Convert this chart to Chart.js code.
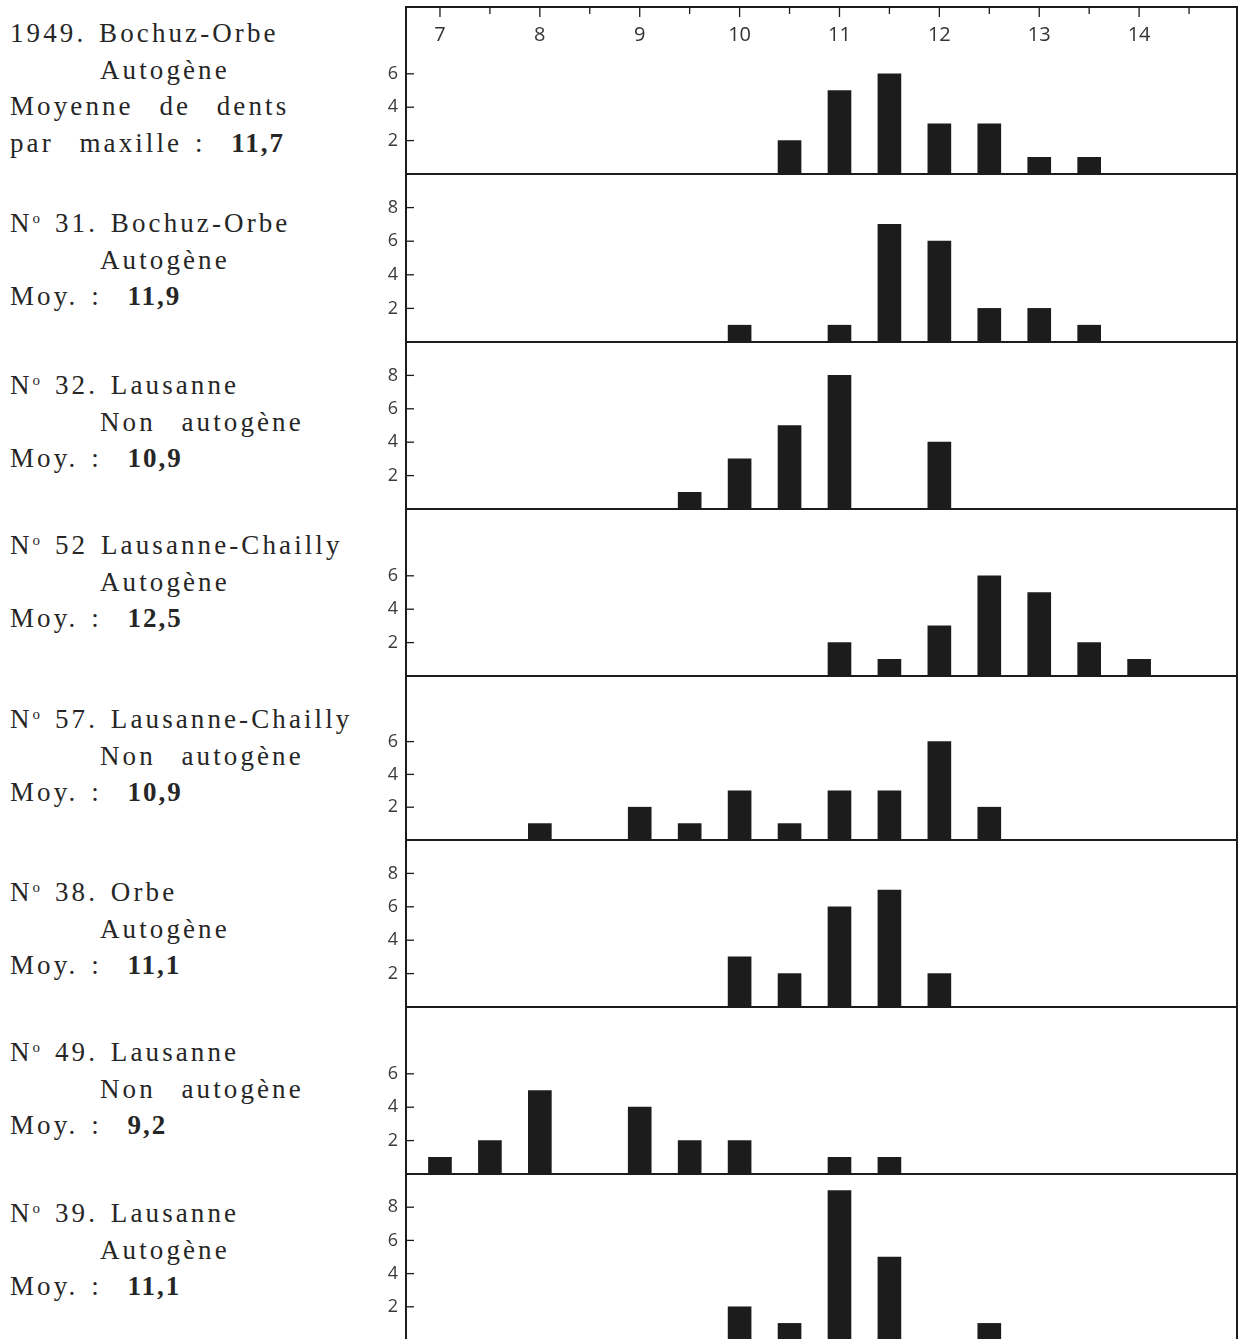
<!DOCTYPE html>
<html lang="fr">
<head>
<meta charset="utf-8">
<title>Nombre de dents par maxille</title>
<script src="https://cdn.jsdelivr.net/npm/chart.js@4"></script>
<style>
    html, body {
        margin: 0;
        padding: 0;
        background: #fff;
        width: 1238px;
        height: 1339px;
        overflow: hidden;
    }
    .label {
        position: absolute;
        left: 10px;
        font-family: "Liberation Serif", "Times New Roman", "DejaVu Serif", serif;
        font-size: 27px;
        line-height: 36.5px;
        letter-spacing: 3.1px;
        word-spacing: 3px;
        color: #262626;
        white-space: pre;
    }
    .label .ind { padding-left: 90px; }
    .label b { font-weight: bold; letter-spacing: 2px; }
    .label sup { font-size: 15px; line-height: 0; vertical-align: 9px; letter-spacing: 2px; }
    .panel { position: absolute; left: 370px; }
    .panel canvas { display: block; }
</style>
</head>
<body>
<script>
// Classes (nombre de dents par maxille)
const bins = [7, 7.5, 8, 8.5, 9, 9.5, 10, 10.5, 11, 11.5, 12, 12.5, 13, 13.5, 14];
const axisTicks = [7, 7.5, 8, 8.5, 9, 9.5, 10, 10.5, 11, 11.5, 12, 12.5, 13, 13.5, 14, 14.5];
const axisLabels = ['7', '8', '9', '10', '11', '12', '13', '14'];

// Effectifs par groupe, dans l'ordre des classes
const bochuz1949 = [0, 0, 0, 0, 0, 0, 0, 2, 5, 6, 3, 3, 1, 1, 0];
const no31 = [0, 0, 0, 0, 0, 0, 1, 0, 1, 7, 6, 2, 2, 1, 0];
const no32 = [0, 0, 0, 0, 0, 1, 3, 5, 8, 0, 4, 0, 0, 0, 0];
const no52 = [0, 0, 0, 0, 0, 0, 0, 0, 2, 1, 3, 6, 5, 2, 1];
const no57 = [0, 0, 1, 0, 2, 1, 3, 1, 3, 3, 6, 2, 0, 0, 0];
const no38 = [0, 0, 0, 0, 0, 0, 3, 2, 6, 7, 2, 0, 0, 0, 0];
const no49 = [1, 2, 5, 0, 4, 2, 2, 0, 1, 1, 0, 0, 0, 0, 0];
const no39 = [0, 0, 0, 0, 0, 0, 2, 1, 9, 5, 0, 1, 0, 0, 0];

// Graduations verticales
const ticksShort = [2, 4, 6];
const ticksLong = [2, 4, 6, 8];

// Textes de gauche
const titles = [
    ['1949. Bochuz-Orbe', 'Autogène', 'Moyenne  de  dents', 'par  maxille :  ', '11,7'],
    ['31. Bochuz-Orbe', 'Autogène', 'Moy. :  ', '11,9'],
    ['32. Lausanne', 'Non  autogène', 'Moy. :  ', '10,9'],
    ['52 Lausanne-Chailly', 'Autogène', 'Moy. :  ', '12,5'],
    ['57. Lausanne-Chailly', 'Non  autogène', 'Moy. :  ', '10,9'],
    ['38. Orbe', 'Autogène', 'Moy. :  ', '11,1'],
    ['49. Lausanne', 'Non  autogène', 'Moy. :  ', '9,2'],
    ['39. Lausanne', 'Autogène', 'Moy. :  ', '11,1']
];

const series = [bochuz1949, no31, no32, no52, no57, no38, no49, no39];
const yTickSets = [ticksShort, ticksLong, ticksLong, ticksShort, ticksShort, ticksLong, ticksShort, ticksLong];

// Limites des bandes (bord haut, puis lignes de base)
const edges = [7, 174, 342, 509, 676, 840, 1007, 1174, 1340];
const textTops = [33, 223, 385, 545, 719, 892, 1052, 1213];

const ink = '#1c1c1c';

// cadre, petites graduations intérieures et chiffres du haut
const framePlugin = {
    id: 'frame',
    afterDraw(chart, args, opts) {
        const ctx = chart.ctx;
        const area = chart.chartArea;
        const xs = chart.scales.x;
        const ys = chart.scales.y;
        ctx.save();
        ctx.strokeStyle = ink;
        ctx.lineWidth = 2;
        ctx.strokeRect(area.left, area.top, area.right - area.left, area.bottom - area.top);

        ctx.lineWidth = 1.3;
        ys.ticks.forEach(t => {
            const y = ys.getPixelForValue(t.value);
            ctx.beginPath();
            ctx.moveTo(area.left, y);
            ctx.lineTo(area.left + 8, y);
            ctx.stroke();
        });

        if (opts.top) {
            axisTicks.forEach(v => {
                const x = xs.getPixelForValue(v);
                ctx.beginPath();
                ctx.moveTo(x, area.top);
                ctx.lineTo(x, area.top + (Number.isInteger(v) ? 10 : 7));
                ctx.stroke();
            });
            ctx.fillStyle = '#333';
            ctx.font = '20px "Open Sans", "DejaVu Sans", sans-serif';
            ctx.textAlign = 'center';
            ctx.textBaseline = 'middle';
            axisLabels.forEach(lbl => {
                ctx.fillText(lbl, xs.getPixelForValue(Number(lbl)), area.top + 28);
            });
        }
        ctx.restore();
    }
};

series.forEach((counts, i) => {
    const top = edges[i];
    const bottom = edges[i + 1];

    const box = document.createElement('div');
    box.className = 'panel';
    box.style.top = (top - 2) + 'px';
    const canvas = document.createElement('canvas');
    canvas.width = 868;
    canvas.height = bottom - top + 4;
    box.appendChild(canvas);
    document.body.appendChild(box);

    new Chart(canvas, {
        type: 'bar',
        data: {
            datasets: [{
                data: bins.map((b, j) => ({ x: b, y: counts[j] })),
                backgroundColor: ink,
                borderWidth: 0,
                barThickness: 23
            }]
        },
        options: {
            responsive: false,
            animation: false,
            events: [],
            layout: { padding: { top: 2, bottom: 2, left: 0, right: 1 } },
            plugins: {
                legend: { display: false },
                tooltip: { enabled: false },
                frame: { top: i === 0 }
            },
            scales: {
                x: {
                    type: 'linear',
                    min: 6.66,
                    max: 14.98,
                    offset: false,
                    display: false
                },
                y: {
                    min: 0,
                    max: 10,
                    grid: { display: false, drawTicks: false },
                    border: { display: false },
                    afterFit: s => {
                        s.width = 36;
                        s.paddingTop = 0;
                        s.paddingBottom = 0;
                    },
                    afterBuildTicks: s => { s.ticks = yTickSets[i].map(v => ({ value: v })); },
                    ticks: {
                        autoSkip: false,
                        padding: 8,
                        color: '#3a3a3a',
                        font: { family: '"Open Sans", "DejaVu Sans", sans-serif', size: 18 }
                    }
                }
            }
        },
        plugins: [framePlugin]
    });

    // bloc de texte à gauche
    const t = titles[i];
    const label = document.createElement('div');
    label.className = 'label';
    label.style.top = (textTops[i] - 18) + 'px';
    let html;
    if (i === 0) {
        html = t[0] + '\n<span class="ind">' + t[1] + '</span>\n' + t[2] + '\n' + t[3] + '<b>' + t[4] + '</b>';
    } else {
        html = 'N<sup>o</sup> ' + t[0] + '\n<span class="ind">' + t[1] + '</span>\n' + t[2] + '<b>' + t[3] + '</b>';
    }
    label.innerHTML = html;
    document.body.appendChild(label);
});
</script>
</body>
</html>
